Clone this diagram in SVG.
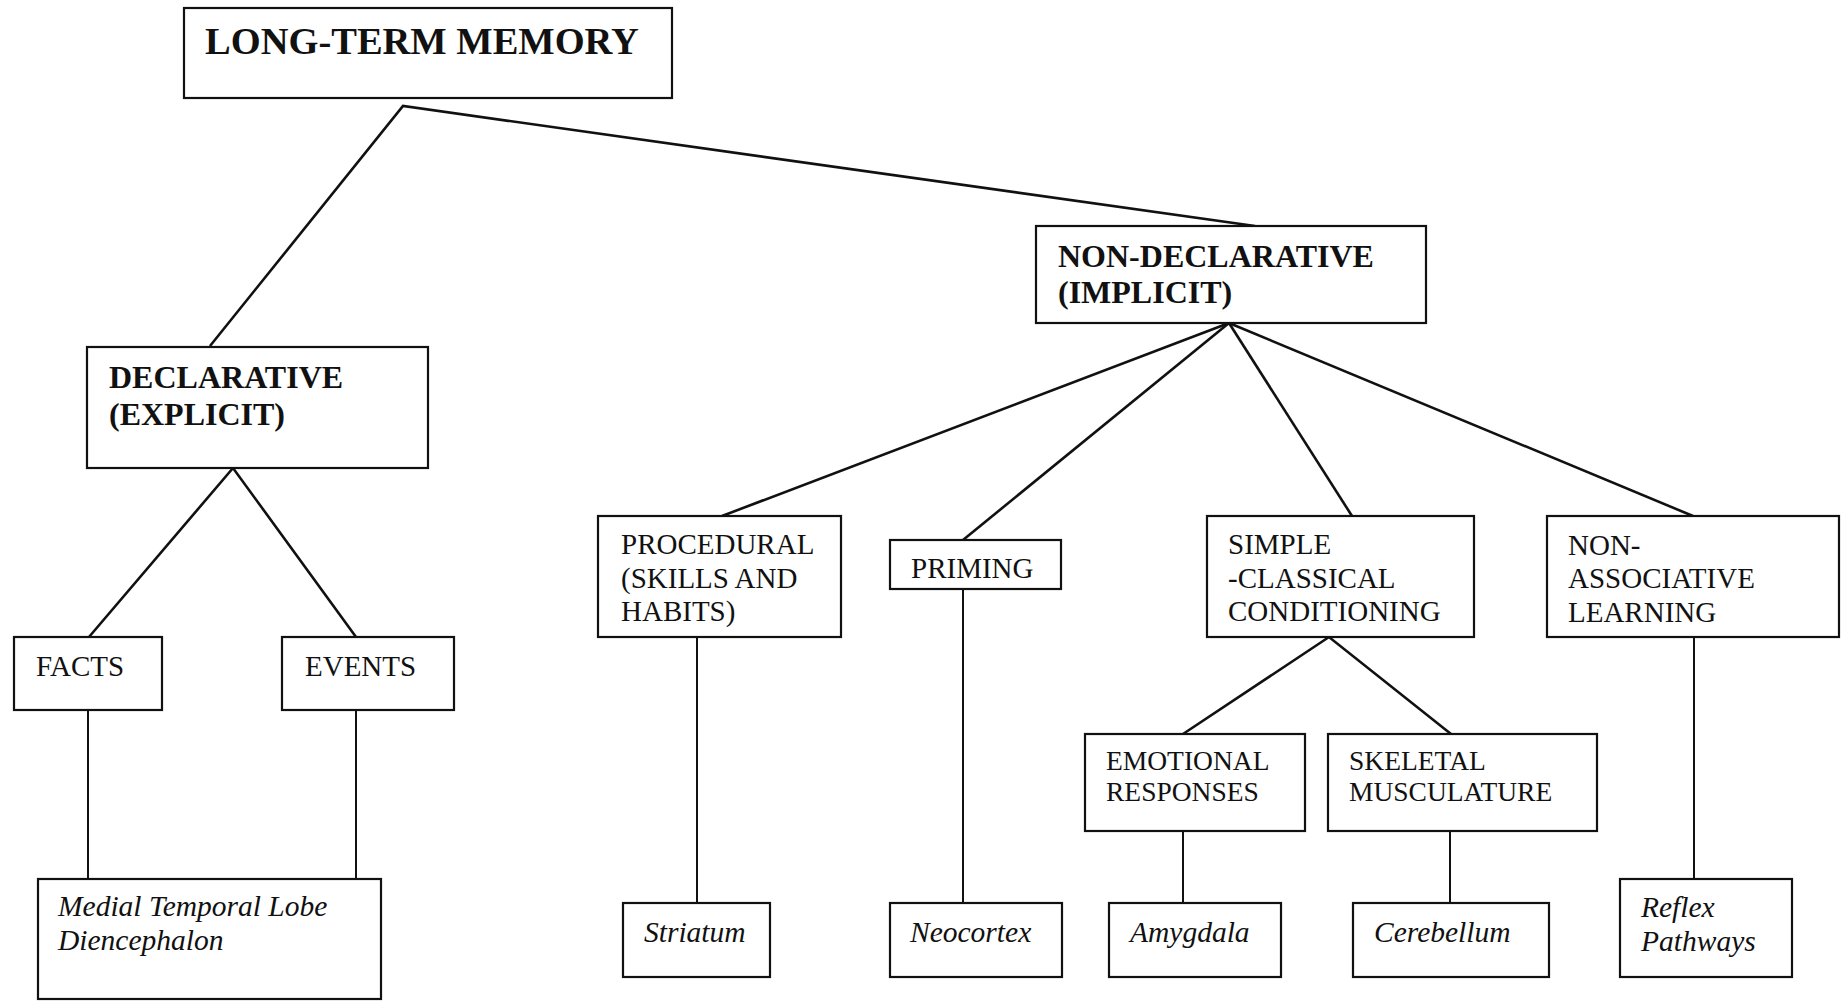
<svg xmlns="http://www.w3.org/2000/svg" width="1841" height="1001" viewBox="0 0 1841 1001">
<style>
.box{fill:#fff;stroke:#111;stroke-width:2.2}
.ln{stroke:#111;stroke-width:2.6;fill:none}
.vl{stroke:#111;stroke-width:2;fill:none}
.b{font-family:"Liberation Serif",serif;font-weight:bold;fill:#111}
.r{font-family:"Liberation Serif",serif;font-size:29px;fill:#111}
.s{font-family:"Liberation Serif",serif;font-size:27.5px;fill:#111}
.i{font-family:"Liberation Serif",serif;font-style:italic;font-size:29.5px;fill:#111}
</style>
<rect width="1841" height="1001" fill="#fff"/>
<g id="connectors">
<polyline class="ln" points="210,346 403,106 1255,226"/>
<polyline class="ln" points="89,637 233,468 356,637"/>
<line class="ln" x1="1229" y1="323" x2="722" y2="516"/>
<line class="ln" x1="1229" y1="323" x2="963" y2="540"/>
<line class="ln" x1="1229" y1="323" x2="1352" y2="516"/>
<line class="ln" x1="1229" y1="323" x2="1693" y2="516"/>
<polyline class="ln" points="1183,734 1329,637 1451,734"/>
<line class="vl" x1="88" y1="710" x2="88" y2="879"/>
<line class="vl" x1="356" y1="710" x2="356" y2="879"/>
<line class="vl" x1="697" y1="637" x2="697" y2="903"/>
<line class="vl" x1="963" y1="589" x2="963" y2="903"/>
<line class="vl" x1="1183" y1="831" x2="1183" y2="903"/>
<line class="vl" x1="1450" y1="831" x2="1450" y2="903"/>
<line class="vl" x1="1694" y1="637" x2="1694" y2="879"/>
</g>
<g id="ltm"><rect class="box" x="184" y="8" width="488" height="90"/><text class="b" x="205" y="54" font-size="38.5">LONG-TERM MEMORY</text></g>
<g id="declarative"><rect class="box" x="87" y="347" width="341" height="121"/><text class="b" font-size="32" x="109" y="388">DECLARATIVE</text><text class="b" font-size="32" x="109" y="425">(EXPLICIT)</text></g>
<g id="nondeclarative"><rect class="box" x="1036" y="226" width="390" height="97"/><text class="b" font-size="32" x="1058" y="267">NON-DECLARATIVE</text><text class="b" font-size="32" x="1058" y="303">(IMPLICIT)</text></g>
<g id="facts"><rect class="box" x="14" y="637" width="148" height="73"/><text class="r" x="36" y="676">FACTS</text></g>
<g id="events"><rect class="box" x="282" y="637" width="172" height="73"/><text class="r" x="305" y="676">EVENTS</text></g>
<g id="mtl"><rect class="box" x="38" y="879" width="343" height="120"/><text class="i" x="58" y="916">Medial Temporal Lobe</text><text class="i" x="58" y="950">Diencephalon</text></g>
<g id="procedural"><rect class="box" x="598" y="516" width="243" height="121"/><text class="r" x="621" y="554">PROCEDURAL</text><text class="r" x="621" y="588">(SKILLS AND</text><text class="r" x="621" y="621">HABITS)</text></g>
<g id="priming"><rect class="box" x="890" y="540" width="171" height="49"/><text class="r" x="911" y="578">PRIMING</text></g>
<g id="simple"><rect class="box" x="1207" y="516" width="267" height="121"/><text class="r" x="1228" y="554">SIMPLE</text><text class="r" x="1228" y="588">-CLASSICAL</text><text class="r" x="1228" y="621">CONDITIONING</text></g>
<g id="nonassociative"><rect class="box" x="1547" y="516" width="292" height="121"/><text class="r" x="1568" y="555">NON-</text><text class="r" x="1568" y="588">ASSOCIATIVE</text><text class="r" x="1568" y="622">LEARNING</text></g>
<g id="emotional"><rect class="box" x="1085" y="734" width="220" height="97"/><text class="s" x="1106" y="770">EMOTIONAL</text><text class="s" x="1106" y="801">RESPONSES</text></g>
<g id="skeletal"><rect class="box" x="1328" y="734" width="269" height="97"/><text class="s" x="1349" y="770">SKELETAL</text><text class="s" x="1349" y="801">MUSCULATURE</text></g>
<g id="striatum"><rect class="box" x="623" y="903" width="147" height="74"/><text class="i" x="644" y="942">Striatum</text></g>
<g id="neocortex"><rect class="box" x="890" y="903" width="172" height="74"/><text class="i" x="910" y="942">Neocortex</text></g>
<g id="amygdala"><rect class="box" x="1109" y="903" width="172" height="74"/><text class="i" x="1130" y="942">Amygdala</text></g>
<g id="cerebellum"><rect class="box" x="1353" y="903" width="196" height="74"/><text class="i" x="1374" y="942">Cerebellum</text></g>
<g id="reflex"><rect class="box" x="1620" y="879" width="172" height="98"/><text class="i" x="1641" y="917">Reflex</text><text class="i" x="1641" y="951">Pathways</text></g>
</svg>
